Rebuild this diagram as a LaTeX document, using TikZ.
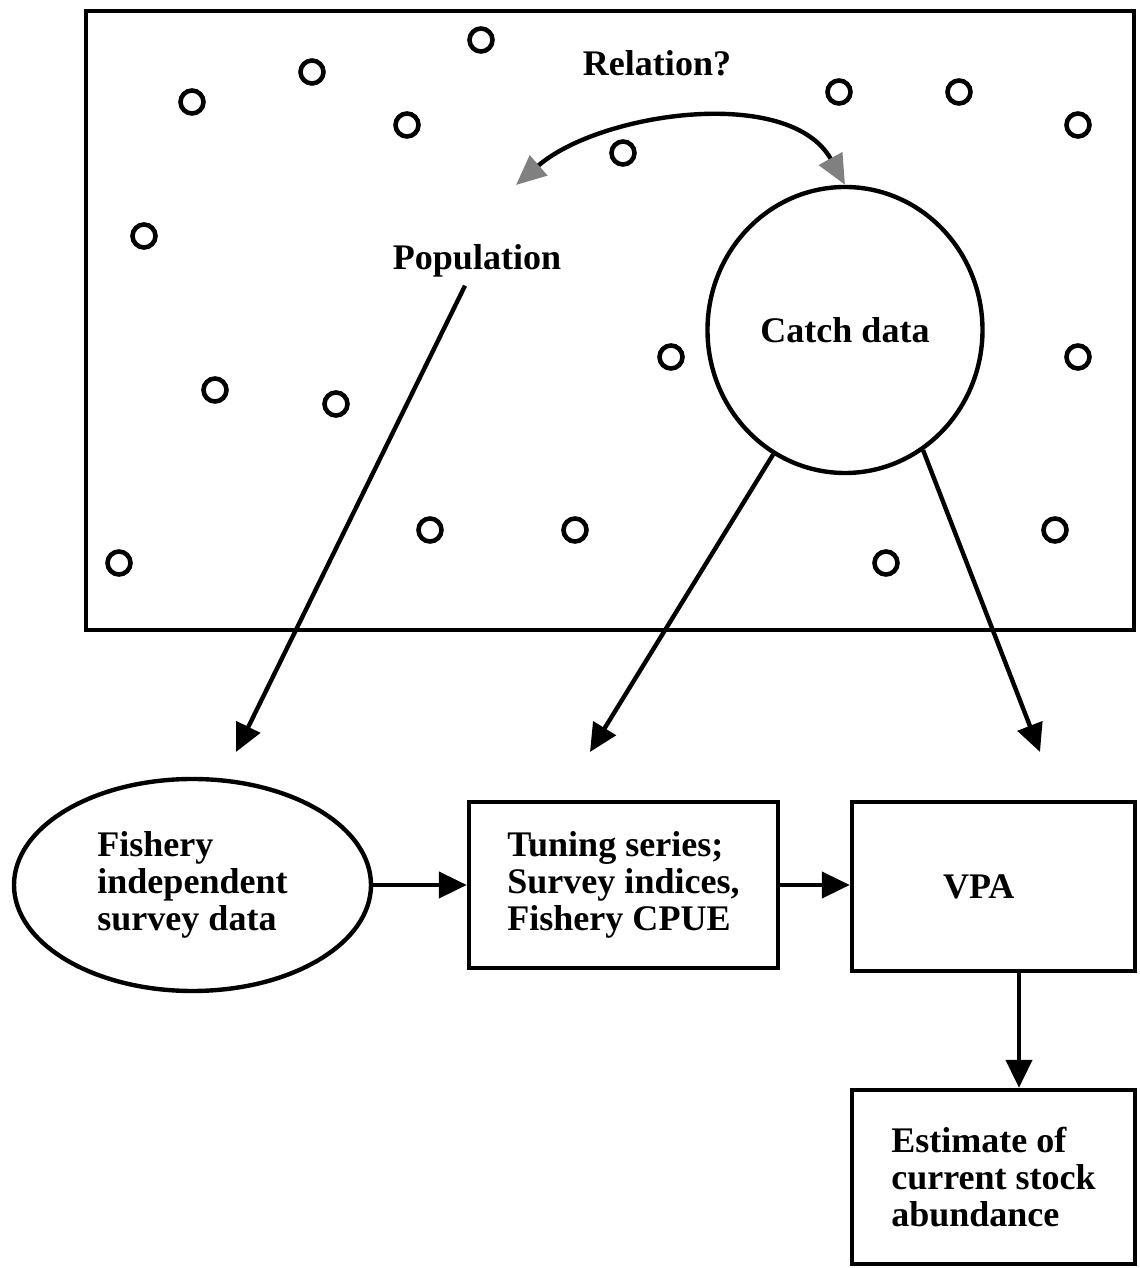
\documentclass[tikz,border=0pt]{standalone}
\usepackage{fontspec}
\setmainfont{Liberation Serif}
\usetikzlibrary{arrows.meta,positioning,shapes,calc}

\begin{document}
\begin{tikzpicture}[
    line width=2.5pt,
    txt/.style={font=\fontsize{20.5}{20.9}\selectfont\bfseries,align=left},
    box/.style={draw,rectangle,txt,minimum width=5.66cm},
    oval/.style={draw,ellipse,txt,inner sep=0pt},
    dot/.style={draw,line width=2.6pt},
    flow/.style={-{Triangle[length=0.56cm,width=0.52cm]}},
    rel/.style={{Triangle[length=0.6cm,width=0.52cm,color=gray]}-{Triangle[length=0.6cm,width=0.52cm,color=gray]}}
  ]
    \useasboundingbox (0,0) rectangle (22.8,25.36);

    % Sea area with the fish
    \draw (1.72,25.14) rectangle (22.68,12.76);
    \foreach \p in {(9.62,24.56),(6.24,23.92),(3.84,23.32),(8.14,22.86),(12.46,22.30),
                    (16.78,23.52),(19.18,23.52),(21.56,22.86),(2.88,20.64),(13.42,18.22),
                    (21.56,18.22),(4.30,17.56),(6.72,17.28),(8.60,14.76),(11.50,14.76),
                    (21.10,14.76),(2.38,14.10),(17.72,14.10)}
      \draw[dot] \p circle (0.23cm);

    % Population and catch
    \node[oval,minimum width=5.5cm,minimum height=5.72cm] (catch) at (16.90,18.76) {Catch data};
    \node[txt,anchor=base] (pop) at (9.54,19.96) {Population};
    \node[txt,anchor=base] (rel) at (13.14,23.84) {Relation?};
    \coordinate (reltip) at (10.32,21.66);
    \draw[rel] (reltip) .. controls (12.0,23.12) and (15.8,23.66) .. (catch.north);

    % Data sources
    \node[oval,minimum width=7.14cm,minimum height=4.24cm] (survey) at (3.85,7.66) {Fishery\\independent\\survey data};
    \node[box,minimum width=6.18cm,minimum height=3.32cm] (tune) at (12.47,7.66) {Tuning series;\\Survey indices,\\Fishery CPUE};
    \node[box,minimum height=3.38cm,text width=2.02cm] (vpa) at (19.87,7.63) {VPA};
    \node[box,minimum height=3.48cm] (est) at (19.87,1.82) {Estimate of\\current stock\\abundance};

    % Arrows from the sea to the data
    \coordinate (surveytip) at (4.72,10.32);
    \coordinate (tunetip) at (11.80,10.32);
    \coordinate (vpatip) at (20.80,10.32);
    \draw[flow] ($(pop.south)+(-0.24,0)$) -- (surveytip);
    \draw[flow] (catch.240) -- (tunetip);
    \draw[flow] (catch.303) -- (vpatip);

    % Flow to the estimate
    \draw[flow] (survey.east) -- (tune.west);
    \draw[flow] (tune.east) -- (tune.east -| vpa.west);
    \draw[flow] ([xshift=0.51cm]vpa.south) -- ([xshift=0.51cm]est.north);
  \end{tikzpicture}
\end{document}
